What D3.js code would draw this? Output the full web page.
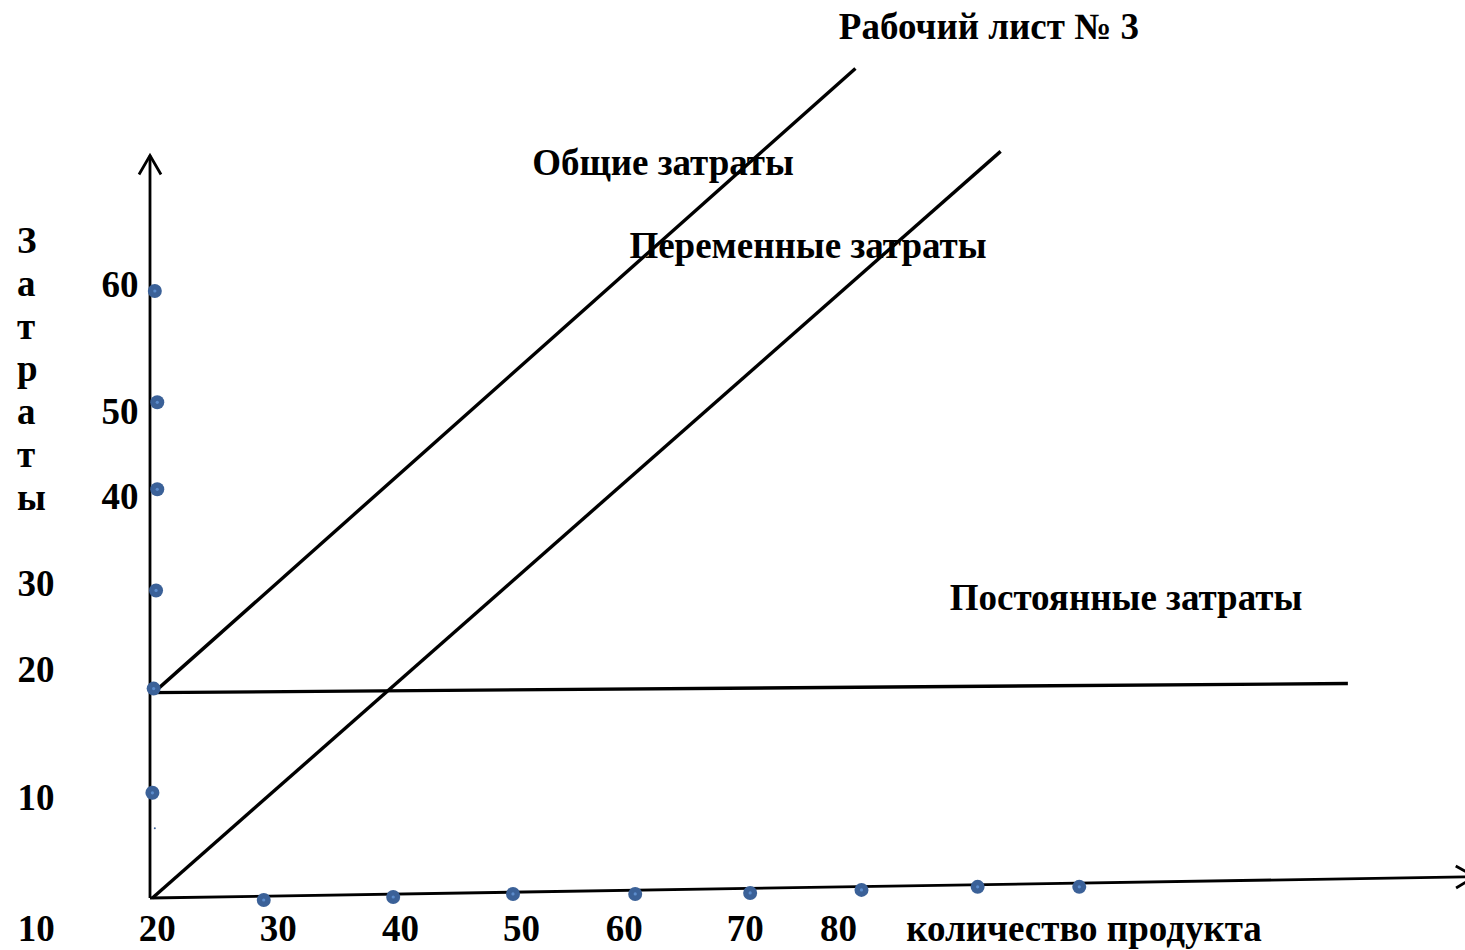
<!DOCTYPE html>
<html>
<head>
<meta charset="utf-8">
<script src="https://cdn.jsdelivr.net/npm/d3@7"></script>
<style>
	body { margin: 0; background: #fff; }
	text { font-family: "Liberation Serif", "Times New Roman", serif; font-weight: bold; fill: #000; }
</style>
</head>
<body>
<svg id="chart" width="1465" height="950"></svg>
<script>
// values, in chart units (quantity, cost)
var xTickLabels = ["10", "20", "30", "40", "50", "60", "70", "80"],
	xTickPos = [10.6, 20.6, 30.6, 40.7, 50.7, 59.2, 69.2, 76.9];

var yTickLabels = ["60", "50", "40", "30", "20", "10"],
	yTickPos = [60.6, 48.0, 39.6, 31.0, 22.5, 9.9],
	yTickNearAxis = [true, true, true, false, false, false];

var yDots = [[20.4, 60.0], [20.6, 49.0], [20.6, 40.4], [20.5, 30.4], [20.3, 20.7], [20.2, 10.4]],
	xDots = [[29.4, -0.2], [40.1, 0.1], [50.0, 0.4], [60.1, 0.4], [69.6, 0.5], [78.8, 0.8], [88.4, 1.1], [96.8, 1.1]];

var totalCost = [[20.4, 20.4], [78.3, 82.0]],
	variableCost = [[20.2, 0], [90.3, 73.8]],
	fixedCost = [[20, 20.3], [119.0, 21.2]];

var xAxisLine = [[20, 0], [129.5, 2.1]],
	yAxisLine = [[20, 0], [20, 73.4]];

var yTitle = ["З", "а", "т", "р", "а", "т", "ы"];

var svg = d3.select("#chart");

var xscale = d3.scaleLinear().domain([20, 80]).range([150, 876]),
	yscale = d3.scaleLinear().domain([0, 60]).range([898, 291]);

var line = d3.line()
	.x(function (d) { return xscale(d[0]); })
	.y(function (d) { return yscale(d[1]); });

function drawLine(data, w) {
	svg.append("path")
		.attr("d", line(data))
		.attr("fill", "none")
		.attr("stroke", "#000")
		.attr("stroke-width", w);
}

// open arrow head at the end of a segment
function drawArrow(data) {
	var p0 = data[0], p1 = data[1],
		x0 = xscale(p0[0]), y0 = yscale(p0[1]),
		x1 = xscale(p1[0]), y1 = yscale(p1[1]),
		ang = Math.atan2(y1 - y0, x1 - x0),
		len = 22, spread = Math.PI / 6;
	svg.append("path")
		.attr("d", "M" + (x1 - len * Math.cos(ang - spread)) + "," + (y1 - len * Math.sin(ang - spread)) +
			"L" + x1 + "," + y1 +
			"L" + (x1 - len * Math.cos(ang + spread)) + "," + (y1 - len * Math.sin(ang + spread)))
		.attr("fill", "none")
		.attr("stroke", "#000")
		.attr("stroke-width", 2.8);
}

drawLine(yAxisLine, 2.8);
drawArrow(yAxisLine);
drawLine(xAxisLine, 2.8);
drawArrow(xAxisLine);
drawLine(totalCost, 3.4);
drawLine(variableCost, 3.4);
drawLine(fixedCost, 3.4);

// dots
var dots = svg.append("g");
[yDots, xDots].forEach(function (set) {
	dots.selectAll(null).data(set).enter().append("circle")
		.attr("cx", function (d) { return xscale(d[0]); })
		.attr("cy", function (d) { return yscale(d[1]); })
		.attr("r", 7)
		.attr("fill", "#3b6198");
	dots.selectAll(null).data(set).enter().append("circle")
		.attr("cx", function (d) { return xscale(d[0]); })
		.attr("cy", function (d) { return yscale(d[1]); })
		.attr("r", 1.6)
		.attr("fill", "#5c8ccc");
});
// stray speck below the 10 dot
svg.append("circle").attr("cx", xscale(20.4)).attr("cy", yscale(6.9)).attr("r", 1).attr("fill", "#3b6198");

var fs = 37;

// x tick labels
svg.append("g").selectAll("text").data(xTickLabels).enter().append("text")
	.attr("x", function (d, i) { return xscale(xTickPos[i]); })
	.attr("y", 941)
	.attr("text-anchor", "middle")
	.style("font-size", fs + "px")
	.text(function (d) { return d; });

// y tick labels
svg.append("g").selectAll("text").data(yTickLabels).enter().append("text")
	.attr("x", function (d, i) { return yTickNearAxis[i] ? 120 : 36; })
	.attr("y", function (d, i) { return yscale(yTickPos[i]) + 12; })
	.attr("text-anchor", "middle")
	.style("font-size", fs + "px")
	.text(function (d) { return d; });

// vertical axis title, one letter per row
svg.append("g").selectAll("text").data(yTitle).enter().append("text")
	.attr("x", 17)
	.attr("y", function (d, i) { return 253 + i * 42.8; })
	.style("font-size", fs + "px")
	.text(function (d) { return d; });

// labels
function label(txt, x, y) {
	svg.append("text")
		.attr("x", x)
		.attr("y", y)
		.attr("text-anchor", "middle")
		.style("font-size", fs + "px")
		.text(txt);
}
label("Рабочий лист № 3", 989, 39);
label("Общие затраты", 663, 175);
label("Переменные затраты", 808, 258);
label("Постоянные затраты", 1126, 610);
label("количество продукта", 1084, 941);
</script>
</body>
</html>
